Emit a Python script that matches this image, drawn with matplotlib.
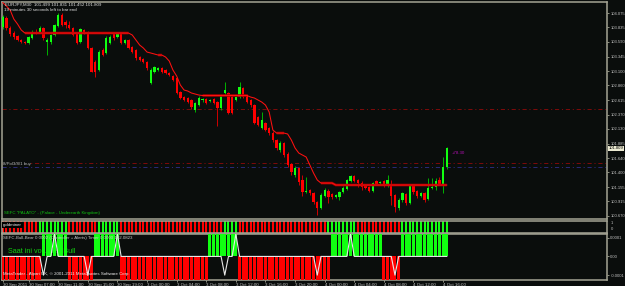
import matplotlib
matplotlib.use("Agg")
import matplotlib.pyplot as plt
import numpy as np

plt.rcParams['font.family'] = ['Liberation Sans', 'DejaVu Sans']
plt.rcParams['lines.scale_dashes'] = False

# ---------------- data (EURJPY, M30) ----------------
opens = [103.840, 103.991, 103.823, 103.739, 103.689, 103.622, 103.588, 103.571, 103.655, 103.756,
         103.756, 103.823, 103.588, 103.588, 103.706, 103.857, 104.041, 103.924, 103.874, 103.823,
         103.722, 103.588, 103.790, 103.756, 103.488, 103.253, 103.118, 103.454, 103.404, 103.571,
         103.739, 103.672, 103.739, 103.571, 103.622, 103.504, 103.454, 103.337, 103.303, 103.253,
         102.900, 103.085, 103.118, 103.152, 103.118, 103.068, 103.018, 102.984, 102.749, 102.665,
         102.649, 102.615, 102.447, 102.531, 102.615, 102.632, 102.598, 102.632, 102.581, 102.481,
         102.733, 102.733, 102.665, 102.615, 102.665, 102.817, 102.699, 102.615, 102.531, 102.330,
         102.145, 102.229, 102.145, 102.061, 101.944, 101.776, 101.894, 101.709, 101.541, 101.357,
         101.474, 101.273, 101.071, 101.105, 101.055, 100.903, 100.803, 101.004, 101.088, 101.038,
         100.987, 100.987, 101.071, 101.122, 101.256, 101.340, 101.273, 101.222, 101.172, 101.155,
         101.088, 101.256, 101.222, 101.256, 101.172, 101.172, 101.021, 100.803, 100.937, 101.038,
         100.887, 101.189, 101.088, 101.004, 101.055, 100.954, 101.138, 101.155, 101.273, 101.205,
         101.499]
highs = [104.041, 104.025, 103.857, 103.773, 103.706, 103.639, 103.605, 103.689, 103.790, 103.806,
         103.857, 103.840, 103.655, 103.722, 103.890, 104.075, 104.075, 103.957, 103.941, 103.840,
         103.739, 103.823, 103.806, 103.773, 103.504, 103.286, 103.454, 103.488, 103.689, 103.706,
         103.756, 103.756, 103.756, 103.639, 103.639, 103.521, 103.471, 103.353, 103.320, 103.269,
         103.152, 103.185, 103.169, 103.169, 103.135, 103.085, 103.035, 103.001, 102.766, 102.682,
         102.665, 102.632, 102.581, 102.682, 102.649, 102.649, 102.632, 102.649, 102.598, 102.716,
         102.917, 102.749, 102.699, 102.682, 102.917, 102.833, 102.716, 102.632, 102.548, 102.346,
         102.414, 102.246, 102.162, 102.095, 101.961, 101.927, 101.911, 101.743, 101.558, 101.508,
         101.491, 101.357, 101.323, 101.122, 101.071, 100.920, 101.055, 101.138, 101.122, 101.055,
         101.038, 101.088, 101.172, 101.289, 101.357, 101.357, 101.289, 101.256, 101.189, 101.172,
         101.239, 101.273, 101.256, 101.273, 101.357, 101.273, 101.038, 100.971, 101.071, 101.055,
         101.205, 101.205, 101.105, 101.071, 101.071, 101.306, 101.306, 101.306, 101.323, 101.659,
         101.831]
lows = [103.806, 103.790, 103.689, 103.639, 103.605, 103.571, 103.555, 103.555, 103.639, 103.722,
        103.739, 103.622, 103.370, 103.555, 103.689, 103.840, 103.857, 103.823, 103.806, 103.689,
        103.555, 103.571, 103.722, 103.471, 103.085, 103.001, 103.102, 103.353, 103.387, 103.555,
        103.622, 103.655, 103.555, 103.555, 103.471, 103.404, 103.286, 103.269, 103.236, 103.118,
        102.884, 103.068, 103.102, 103.068, 103.051, 103.018, 102.934, 102.716, 102.632, 102.598,
        102.565, 102.464, 102.414, 102.514, 102.581, 102.548, 102.581, 102.548, 102.179, 102.447,
        102.699, 102.380, 102.380, 102.598, 102.649, 102.649, 102.565, 102.498, 102.212, 102.179,
        102.128, 102.095, 102.028, 101.911, 101.776, 101.743, 101.659, 101.491, 101.357, 101.323,
        101.189, 101.004, 101.055, 101.021, 100.870, 100.685, 100.786, 100.987, 100.887, 100.954,
        100.971, 100.937, 101.055, 101.105, 101.239, 101.239, 101.155, 101.105, 101.122, 101.071,
        101.071, 101.189, 101.205, 101.155, 101.155, 100.853, 100.736, 100.769, 100.903, 100.853,
        100.870, 101.038, 100.971, 100.987, 100.903, 100.937, 101.122, 101.105, 101.189, 101.055,
        101.452]
closes = [104.008, 103.823, 103.722, 103.672, 103.622, 103.588, 103.571, 103.672, 103.756, 103.739,
          103.823, 103.655, 103.622, 103.706, 103.874, 104.041, 103.874, 103.874, 103.823, 103.706,
          103.571, 103.806, 103.739, 103.488, 103.085, 103.085, 103.420, 103.370, 103.655, 103.672,
          103.655, 103.739, 103.571, 103.622, 103.488, 103.420, 103.320, 103.286, 103.253, 103.152,
          103.118, 103.169, 103.152, 103.085, 103.068, 103.035, 102.951, 102.733, 102.649, 102.615,
          102.581, 102.498, 102.565, 102.649, 102.625, 102.565, 102.615, 102.565, 102.481, 102.699,
          102.783, 102.397, 102.397, 102.665, 102.833, 102.665, 102.581, 102.531, 102.229, 102.196,
          102.279, 102.112, 102.061, 101.944, 101.810, 101.894, 101.692, 101.524, 101.407, 101.474,
          101.239, 101.071, 101.088, 101.055, 100.903, 100.803, 101.021, 101.105, 100.987, 100.987,
          101.021, 101.071, 101.138, 101.273, 101.340, 101.256, 101.222, 101.155, 101.138, 101.088,
          101.222, 101.205, 101.239, 101.172, 101.273, 101.004, 100.819, 100.937, 101.055, 100.887,
          101.189, 101.071, 101.004, 101.055, 100.937, 101.138, 101.155, 101.256, 101.205, 101.490,
          101.809]
stop_line = [104.250, 104.192, 104.125, 103.974, 103.890, 103.790,
             103.739, 103.739, 103.739, 103.739, 103.739, 103.739, 103.739, 103.739, 103.739, 103.739,
             103.739, 103.739, 103.739, 103.739, 103.739, 103.739, 103.739, 103.739, 103.739, 103.739,
             103.739, 103.739, 103.739, 103.739, 103.739, 103.739, 103.739, 103.739, 103.739,
             103.706, 103.622, 103.538, 103.488, 103.420, 103.404, 103.387, 103.370, 103.370, 103.337,
             103.269, 103.118, 103.018, 102.867, 102.783, 102.766, 102.733, 102.716, 102.699,
             102.691, 102.691, 102.691, 102.691, 102.691, 102.691, 102.691, 102.691, 102.691, 102.691,
             102.691, 102.691, 102.691,
             102.665, 102.649, 102.615, 102.581, 102.531, 102.414, 102.112,
             102.061, 102.061, 102.061,
             102.045, 101.944, 101.810, 101.726, 101.692, 101.659, 101.524, 101.389, 101.273,
             101.222, 101.222, 101.222, 101.222,
             101.189, 101.189, 101.189, 101.189, 101.189, 101.189, 101.189, 101.189, 101.189, 101.189,
             101.189, 101.189, 101.189, 101.189, 101.189, 101.189, 101.189, 101.189, 101.189, 101.189,
             101.189, 101.189, 101.189, 101.189, 101.189, 101.189, 101.189, 101.189, 101.189, 101.189,
             101.189]
level_lines = [102.459, 101.558, 101.487]
goldminer_bull = [0, 0, 0, 0, 0, 0, 0, 0, 0, 0,
                  1, 1, 1, 1, 1, 1, 1, 1, 0, 0,
                  0, 0, 0, 0, 0, 0, 1, 1, 1, 1,
                  1, 1, 0, 0, 0, 0, 0, 0, 0, 0,
                  0, 0, 0, 0, 0, 0, 0, 0, 0, 0,
                  0, 0, 0, 0, 0, 0, 0, 0, 0, 0,
                  1, 1, 1, 1, 0, 0, 0, 0, 0, 0,
                  0, 0, 0, 0, 0, 0, 0, 0, 0, 0,
                  0, 0, 0, 0, 0, 0, 0, 0, 1, 1,
                  1, 1, 1, 1, 1, 1, 0, 0, 0, 0,
                  0, 0, 0, 0, 0, 0, 0, 0, 1, 1,
                  1, 1, 1, 1, 1, 1, 1, 1, 1, 1,
                  1]
bb_hist = ([-0.00015] * 11 + [0.00015] * 7 + [-0.00015] * 7 + [0.00015] * 7 +
           [-0.00015] * 24 + [0.00015] * 8 + [-0.00015] * 25 + [0.00015] * 14 +
           [-0.00015] * 5 + [0.00015] * 13)
bb_signal = [0.0] * 121
for idx, val in [(11, -0.0001), (14, 0.00012), (23, -0.0001), (31, 0.00012), (60, -0.0001),
                 (63, 0.00012), (85, -0.0001), (94, 0.00012), (106, -0.0001)]:
    bb_signal[idx] = val

price_ticks = [104.075, 103.835, 103.590, 103.345, 103.100, 102.860, 102.615, 102.370,
               102.130, 101.885, 101.640, 101.400, 101.155, 100.915, 100.670]
time_tick_pos = [0, 7, 15, 23, 31, 39, 47, 55, 63, 71, 79, 87, 95, 103, 111, 119]
time_tick_labels = ["30 Sep 2011", "30 Sep 07:00", "30 Sep 11:00", "30 Sep 15:00", "30 Sep 19:00",
                    "3 Oct 00:00", "3 Oct 04:00", "3 Oct 08:00", "3 Oct 12:00", "3 Oct 16:00",
                    "3 Oct 20:00", "4 Oct 00:00", "4 Oct 04:00", "4 Oct 08:00", "4 Oct 12:00",
                    "4 Oct 16:00"]

# ---------------- figure ----------------
W, H = 625, 286
BG = '#0a0d0c'
SPINE = '#a4a494'
TXT = '#c4c4c4'
UP, DN = '#11ff11', '#ff0000'
UPW, DNW = '#00b400', '#d00000'
FS = 3.2
FSR = 3.0

fig = plt.figure(figsize=(W / 100, H / 100), dpi=100, facecolor=BG)
fx = lambda p: p / W
fy = lambda p: 1 - p / H
L, R = 2, 607
ax = fig.add_axes([fx(L), fy(219), fx(R) - fx(L), fy(2) - fy(219)])
ax1 = fig.add_axes([fx(L), fy(232.5), fx(R) - fx(L), fy(220.5) - fy(232.5)], sharex=ax)
ax2 = fig.add_axes([fx(L), fy(280), fx(R) - fx(L), fy(233.8) - fy(280)], sharex=ax)

x = np.arange(len(closes))
for a in (ax, ax1, ax2):
    a.set_facecolor(BG)
    for s in a.spines.values():
        s.set_color(SPINE)
        s.set_linewidth(1.1)
    a.tick_params(axis='x', bottom=False, labelbottom=False)
    a.yaxis.tick_right()
    a.tick_params(axis='y', colors=SPINE, labelcolor=TXT, labelsize=FSR, length=1.5, width=0.6, pad=0.9)

ax.set_xlim(-0.2, 163.3)

# main panel
o = np.array(opens); c = np.array(closes); h = np.array(highs); lo = np.array(lows)
up = c >= o
ax.vlines(x, lo, h, colors=np.where(up, UPW, DNW), linewidth=0.7, zorder=2)
body_h = np.maximum(np.abs(c - o), 0.01)
ax.bar(x, body_h, bottom=np.minimum(o, c), width=0.62, color=np.where(up, UP, DN),
       linewidth=0, zorder=3)
sl = np.array(stop_line)
flat = np.zeros(len(sl), bool)
flat[1:] |= sl[1:] == sl[:-1]
flat[:-1] |= sl[:-1] == sl[1:]
ax.plot(x, np.where(flat, sl, np.nan), color='#a00000', lw=1.9, zorder=4, solid_capstyle='butt')
ax.plot(x, sl, color='#ff1010', lw=0.75, zorder=5)
dd = (0, (3, 2, 0.8, 2))
ax.axhline(level_lines[0], color='#7e0a0a', lw=0.7, ls=dd, zorder=1)
ax.axhline(level_lines[1], color='#7e0a0a', lw=0.7, ls=dd, zorder=1)
ax.axhline(level_lines[2], color='#2a2a78', lw=0.7, ls=dd, zorder=1)
ax.set_ylim(100.619, 104.260)
ax.set_yticks(price_ticks)
ax.set_yticklabels([f"{p:.3f}" for p in price_ticks])

# goldminer panel
ax1.bar(x, np.ones(len(x)), width=0.55, color=[UP if g else DN for g in goldminer_bull], linewidth=0)
ax1.set_ylim(0, 1)
ax1.set_yticks([])

# bull-bear panel
hb = np.array(bb_hist)
ax2.bar(x, hb, width=0.82, color=np.where(hb > 0, UP, DN), linewidth=0, zorder=3)
ax2.plot(x, bb_signal, color='#e8e8e8', lw=0.8, zorder=4)
ax2.set_ylim(-0.000126, 0.000121)
ax2.set_yticks([0.0001, 0.0, -0.0001])
ax2.set_yticklabels(['0.0001', '0.00', '-0.0001'])
ax2.tick_params(axis='x', bottom=True, labelbottom=True, colors=SPINE, labelcolor=TXT,
                labelsize=FS, length=1.5, width=0.6, pad=0.4)
ax2.set_xticks(time_tick_pos)
ax2.set_xticklabels(time_tick_labels, ha='left')

# ---------------- texts ----------------
fig.text(fx(5), fy(5), f"EURJPY,M30  {opens[-1]:.3f} {highs[-1]:.3f} {lows[-1]:.3f} {closes[-1]:.3f}",
         fontsize=FS, color='#e0e0e0', va='center')
fig.text(fx(4), fy(10), "19 minutes 30 seconds left to bar end", fontsize=FS, color='#e0e0e0', va='center')
fig.text(fx(3), fy(164), "8/Pol3/8/1 buy", fontsize=FS, color='#b8b8b8', va='center',
         bbox=dict(facecolor=BG, edgecolor='none', pad=0.3))
fig.text(fx(4), fy(212.7), 'SEFC "PALATO" - (Palace - Underearth Kingdom)', fontsize=FS,
         color='#10c010', va='center')
fig.text(fx(452), fy(153), "+78.30", fontsize=FS, color='#b010b0', va='center')
fig.text(fx(3), fy(225), "goldminer", fontsize=FS, color='#f0f0f0', va='center',
         bbox=dict(facecolor='#000000', edgecolor='none', pad=0.6))
fig.text(fx(611), fy(223.5), "1", fontsize=FSR, color=TXT, va='center')
fig.text(fx(611), fy(228.5), "0", fontsize=FSR, color=TXT, va='center')
fig.text(fx(3), fy(238), "SEFC-Bull-Bear 0.0002 (Controller + Alerts) Timer 0.0000 102.0823",
         fontsize=FS, color=TXT, va='center', zorder=0)
ax2.text(0.01, 0.62, "Saat ini volume : Bull", transform=ax2.transAxes, fontsize=5.2,
         color='#10d010', va='center', zorder=1)
fig.text(fx(3), fy(273.5), "MetaTrader - Alpari UK, \u00a9 2001-2011 MetaQuotes Software Corp.",
         fontsize=FS, color='#f0f0f0', va='center')
fig.text(fx(609), fy(148.3), f"{closes[-1]:.3f}", fontsize=FSR, color='#000000', va='center',
         bbox=dict(facecolor='#ecead2', edgecolor='none', pad=0.5))

fig.savefig("out.png", dpi=100, facecolor=BG)
